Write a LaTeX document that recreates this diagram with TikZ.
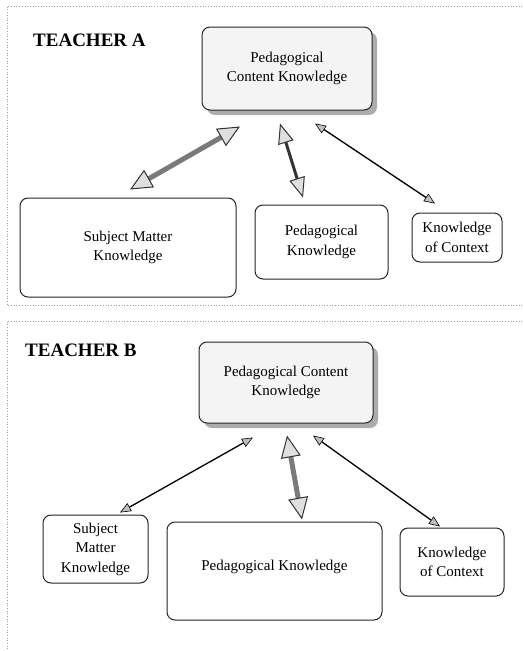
\documentclass[tikz,border=0pt]{standalone}
\usepackage{fontspec}
\setmainfont{Liberation Serif}
\usetikzlibrary{arrows.meta,calc,shadows}
\tikzset{
  box/.style={draw=black!85, line width=1pt, rounded corners=8pt, align=center, inner sep=2pt, fill=white,
    font=\fontsize{15}{19.5}\selectfont},
  pckbox/.style={box, fill=gray!9,
    drop shadow={shadow xshift=5pt, shadow yshift=-5pt, fill=gray!65, opacity=1}},
  titletext/.style={font=\fontsize{19}{22}\selectfont\bfseries, anchor=west, inner sep=0pt},
  framelines/.style={gray!75, dotted, line width=0.7pt},
  bigtip/.tip={Triangle[length=22pt, width=20pt, fill=gray!25, color=gray!40!black, line width=1pt]},
  midtip/.tip={Triangle[length=20pt, width=16pt, fill=gray!25, color=gray!40!black, line width=1pt]},
  smalltip/.tip={Triangle[length=11pt, width=9pt, fill=gray!50, color=black, line width=0.6pt]},
  bigconn/.style={line width=5pt, draw=gray!70!black!80, bigtip-bigtip},
  darkconn/.style={line width=3pt, draw=black!80, midtip-midtip},
  thinconn/.style={line width=1.3pt, draw=black, smalltip-smalltip},
}
\begin{document}
\begin{tikzpicture}[x=1pt,y=-1pt]
\useasboundingbox (0,0) rectangle (523,651);
% frames
\draw[framelines] (522,6) -- (7,6) -- (7,305) -- (522,305);
\draw[framelines] (522,321) -- (7,321) -- (7,651);

% ---------- Teacher A ----------
\node[titletext] (titleA) at (33,40) {TEACHER A};
\node[pckbox, minimum width=170pt, minimum height=83pt] (pckA) at (287,68.5) {Pedagogical\\Content Knowledge};
\node[box, minimum width=216pt, minimum height=99pt] (smkA) at (128,247.5) {Subject Matter\\Knowledge};
\node[box, minimum width=133pt, minimum height=74pt] (pkA) at (321.5,242) {Pedagogical\\Knowledge};
\node[box, minimum width=90pt, minimum height=49pt] (kcA) at (457,237.5) {Knowledge\\of Context};

\draw[bigconn] ($(smkA.north)+(2,-8)$) -- ($(pckA.south)+(-47,16)$);
\draw[darkconn] ($(pkA.north)+(-18.5,-7)$) -- ($(pckA.south)+(-7,13)$);
\draw[thinconn] ($(kcA.north)+(-22,-9)$) -- ($(pckA.south)+(28,13)$);

% ---------- Teacher B ----------
\node[titletext] (titleB) at (25,350) {TEACHER B};
\node[pckbox, minimum width=174pt, minimum height=81pt] (pckB) at (286,382.5) {Pedagogical Content\\Knowledge};
\node[box, minimum width=105pt, minimum height=68pt] (smkB) at (95.5,549) {Subject\\Matter\\Knowledge};
\node[box, minimum width=215pt, minimum height=98pt, text depth=12pt] (pkB) at (274.5,571) {Pedagogical Knowledge};
\node[box, minimum width=104pt, minimum height=68pt] (kcB) at (452,562) {Knowledge\\of Context};

\draw[thinconn] ($(smkB.north)+(24.5,-2)$) -- ($(pckB.south)+(-33,14)$);
\draw[bigconn] ($(pkB.north)+(27.5,-2)$) -- ($(pckB.south)+(1,12)$);
\draw[thinconn] ($(kcB.north)+(-12,-1)$) -- ($(pckB.south)+(27,12)$);
\end{tikzpicture}
\end{document}
